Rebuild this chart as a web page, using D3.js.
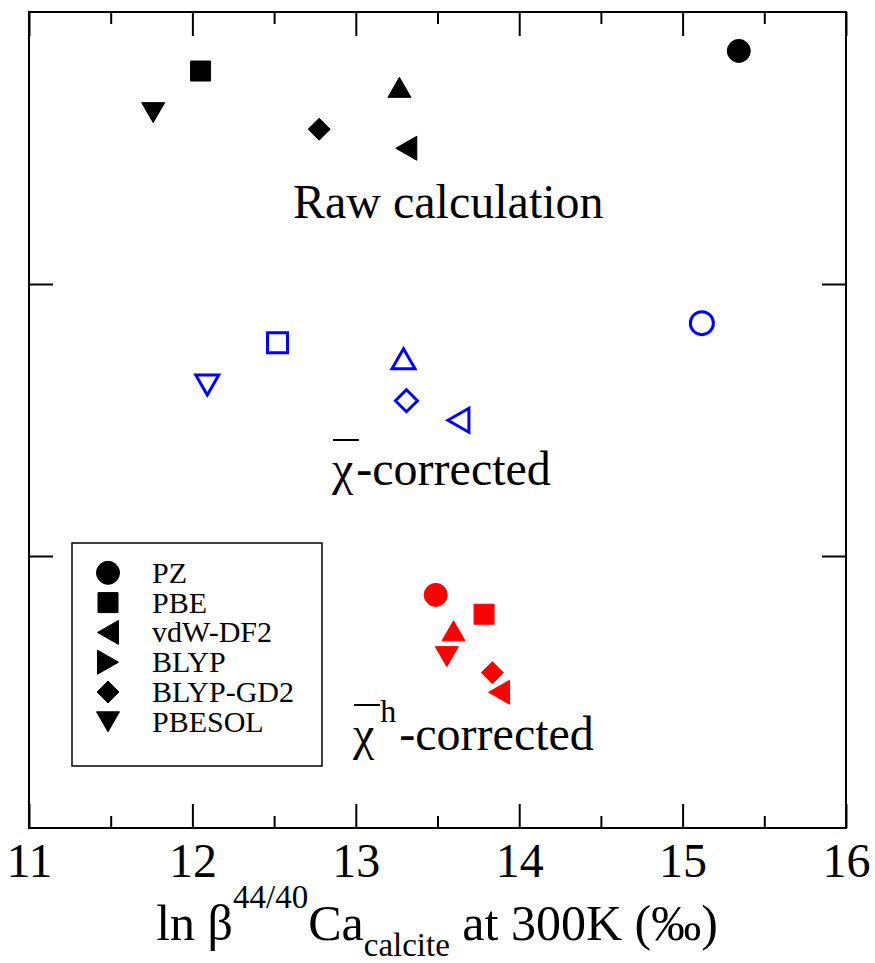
<!DOCTYPE html>
<html>
<head>
<meta charset="utf-8">
<script src="https://cdn.jsdelivr.net/npm/d3@7"></script>
<style>
  body { margin: 0; background: #fff; }
  svg text { font-family: 'Times New Roman', 'Liberation Serif', 'DejaVu Serif', serif; }
</style>
</head>
<body>
<div id="viz"></div>
<script>
// data
var methods = ["PZ", "PBE", "vdW-DF2", "BLYP", "BLYP-GD2", "PBESOL"];
var plotShapes = ["circle", "square", "left", "up", "diamond", "down"];
var legendShapes = ["circle", "square", "left", "right", "diamond", "down"];

var rawX = [15.344, 12.050, 13.309, 13.267, 12.776, 11.760];
var rawY = [2.857, 2.783, 2.499, 2.723, 2.569, 2.630];
var chiX = [15.118, 12.521, 13.628, 13.292, 13.310, 12.091];
var chiY = [1.856, 1.784, 1.499, 1.725, 1.571, 1.629];
var chiHX = [13.489, 13.785, 13.877, 13.598, 13.836, 13.557];
var chiHY = [0.857, 0.786, 0.499, 0.725, 0.571, 0.630];

var xTicks = [11, 12, 13, 14, 15, 16];
var xMinor = [11.5, 12.5, 13.5, 14.5, 15.5];
var yTicks = [1, 2];

var W = 875, H = 963;
var margin = {top: 12, right: 29, bottom: 135, left: 29},
    width = W - margin.left - margin.right,
    height = H - margin.top - margin.bottom;

var x = d3.scaleLinear().domain([11, 16]).range([0, width]);
var y = d3.scaleLinear().domain([0, 3]).range([height, 0]);

var svg = d3.select('#viz').append('svg')
    .attr('width', W)
    .attr('height', H);

var g = svg.append('g')
    .attr('transform', 'translate(' + margin.left + ',' + margin.top + ')');

// symbol outlines, centred on the point
function shapePath(type) {
  switch (type) {
    case 'square': return 'M-10,-10H10V10H-10Z';
    case 'diamond': return 'M0,-11L11,0L0,11L-11,0Z';
    case 'up': return 'M0,-10L11.5,10L-11.5,10Z';
    case 'down': return 'M0,10L11.5,-10L-11.5,-10Z';
    case 'left': return 'M-10.5,0L10.5,-12L10.5,12Z';
    case 'right': return 'M10.5,0L-10.5,-12L-10.5,12Z';
    default: return 'M11.5,0A11.5,11.5 0 1,1 -11.5,0A11.5,11.5 0 1,1 11.5,0Z';
  }
}

// axes: major + minor ticks inward, top and bottom
function tickAxis(axisFn, scale, vals, size) {
  return axisFn(scale).tickValues(vals).tickSize(size).tickFormat('');
}

var bottom = g.append('g').attr('transform', 'translate(0,' + height + ')')
    .call(d3.axisBottom(x).tickValues(xTicks).tickSize(-24).tickFormat(d3.format('d')));
bottom.selectAll('text').attr('font-size', 48).attr('dy', 0).attr('y', 49);

g.append('g').attr('transform', 'translate(0,' + height + ')')
    .call(tickAxis(d3.axisBottom, x, xMinor, -12));
g.append('g').call(tickAxis(d3.axisTop, x, xTicks, -24));
g.append('g').call(tickAxis(d3.axisTop, x, xMinor, -12));
g.append('g').call(tickAxis(d3.axisLeft, y, yTicks, -24));
g.append('g').attr('transform', 'translate(' + width + ',0)')
    .call(tickAxis(d3.axisRight, y, yTicks, -24));

g.selectAll('.domain').remove();
g.selectAll('.tick line').attr('stroke', '#000').attr('stroke-width', 2);
g.selectAll('.tick text').attr('fill', '#000');

g.append('rect')
    .attr('width', width).attr('height', height)
    .attr('fill', 'none').attr('stroke', '#000').attr('stroke-width', 2);

// point groups
var groups = [
  {xs: rawX, ys: rawY, color: '#000', open: false},
  {xs: chiX, ys: chiY, color: '#0000ff', open: true},
  {xs: chiHX, ys: chiHY, color: '#ff0000', open: false}
];

groups.forEach(function(grp) {
  g.append('g').selectAll('path')
    .data(methods)
    .enter().append('path')
      .attr('d', function(d, i) { return shapePath(plotShapes[i]); })
      .attr('transform', function(d, i) {
        return 'translate(' + x(grp.xs[i]) + ',' + y(grp.ys[i]) + ')';
      })
      .attr('fill', grp.open ? 'none' : grp.color)
      .attr('stroke', grp.color)
      .attr('stroke-width', grp.open ? 3 : 1);
});

// annotations
g.append('text')
    .attr('x', 293 - margin.left).attr('y', 218 - margin.top)
    .attr('font-size', 48)
    .text('Raw calculation');

function chiLabel(x0, base, sup) {
  var t = g.append('text')
      .attr('x', x0 - margin.left).attr('y', base - margin.top)
      .attr('font-size', 48);
  t.append('tspan').text('χ');
  if (sup) {
    t.append('tspan').attr('font-size', 32).attr('dx', 6).attr('dy', -28).text(sup);
    t.append('tspan').attr('dx', 3).attr('dy', 28).text('-corrected');
  } else {
    t.append('tspan').attr('dx', 3).text('-corrected');
  }
  g.append('line')
      .attr('x1', x0 - margin.left + 1).attr('x2', x0 - margin.left + 27)
      .attr('y1', base - margin.top - 45).attr('y2', base - margin.top - 45)
      .attr('stroke', '#000').attr('stroke-width', 2);
}
chiLabel(332, 485, null);
chiLabel(353, 750, 'h');

// legend
var legend = svg.append('g').attr('transform', 'translate(72,543)');
legend.append('rect')
    .attr('width', 250).attr('height', 223)
    .attr('fill', '#fff').attr('stroke', '#000').attr('stroke-width', 1.5);
var rows = legend.selectAll('.row')
    .data(methods)
    .enter().append('g')
      .attr('transform', function(d, i) { return 'translate(36,' + (29.8 + i * 29.8) + ')'; });
rows.append('path')
    .attr('d', function(d, i) { return shapePath(legendShapes[i]); })
    .attr('fill', '#000').attr('stroke', '#000');
rows.append('text')
    .attr('x', 44).attr('y', 10)
    .attr('font-size', 30)
    .text(function(d) { return d; });

// x axis title
var title = svg.append('text')
    .attr('x', 437).attr('y', 940)
    .attr('text-anchor', 'middle')
    .attr('font-size', 50);
title.append('tspan').text('ln β');
title.append('tspan').attr('font-size', 33).attr('dy', -32).text('44/40');
title.append('tspan').attr('dy', 32).text('Ca');
title.append('tspan').attr('font-size', 33).attr('dy', 16).text('calcite');
title.append('tspan').attr('dy', -16).text(' at 300K (‰)');
</script>
</body>
</html>
